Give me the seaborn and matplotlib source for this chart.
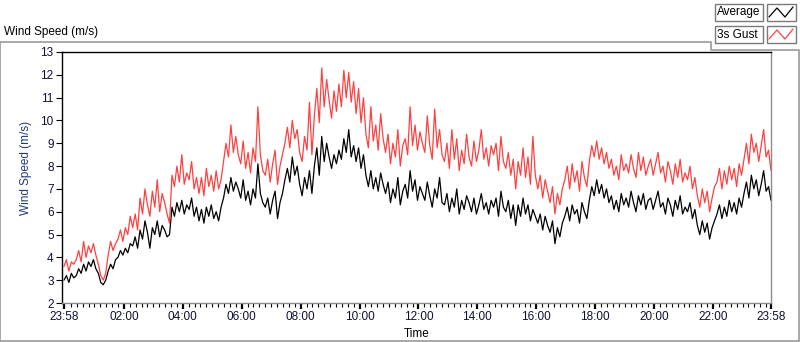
import matplotlib
matplotlib.use('Agg')
import matplotlib.pyplot as plt
from matplotlib.lines import Line2D
from matplotlib.patches import Rectangle
import seaborn as sns
import numpy as np
import pandas as pd

# 5-minute readings starting at 23:58 (minutes from start)
step_min = 5
average = [
    3.0, 3.2, 2.9, 3.3, 3.1,
    3.2, 3.5, 3.3, 3.7, 3.4, 3.8, 3.6, 3.9,
    3.5, 3.3,
    2.9, 2.8, 3.0,
    3.4, 3.7, 3.5, 3.9,
    4.0, 4.3, 4.1, 4.4, 4.2, 4.6,
    4.5, 4.9, 4.4,
    5.2, 4.8, 5.6, 5.1,
    4.4, 5.3, 5.0, 5.6, 4.9, 5.4, 5.2, 4.9,
    5.0,
    6.2, 5.8, 6.4, 6.0, 6.5, 5.9, 6.3, 6.1, 6.6, 5.8, 6.2,
    5.6, 6.1, 5.5, 6.2, 5.8, 6.3, 5.7, 6.0, 5.6, 6.2,
    6.6, 7.2, 6.8, 7.5, 6.9, 7.3, 7.0, 6.6, 7.4,
    6.5, 6.9, 6.3, 7.0, 6.6, 8.1, 6.8, 6.4,
    6.2, 6.6, 5.9, 6.5, 6.9, 5.7, 6.4, 6.8,
    7.4, 7.9, 7.3, 8.4, 7.6, 8.0, 7.2,
    6.7, 7.5, 7.0, 7.8, 6.8,
    8.0, 8.8, 7.6, 9.3, 8.2, 9.0, 8.4,
    7.9, 8.5, 8.1, 8.7,
    8.3, 9.2, 8.6, 9.6, 8.4, 8.9,
    8.2, 8.8, 7.9, 8.5,
    7.6, 7.1, 7.8, 7.0, 7.5, 6.9, 7.7, 7.2,
    6.8, 7.3, 6.4, 7.0, 6.6, 7.5, 6.3, 6.9,
    7.2, 6.6, 7.8, 6.9, 7.4, 6.5, 7.1, 6.8,
    6.5, 7.3, 6.7, 6.2, 7.0, 6.6, 7.5, 6.4,
    6.3, 6.8, 6.0, 6.6, 6.2, 7.0, 5.9, 6.5, 6.1, 6.7,
    6.4, 6.0, 6.6, 5.9, 6.3, 6.8, 6.1, 6.4, 5.9, 6.5, 6.2,
    6.6, 5.8, 6.9, 6.2, 6.0, 6.5, 5.7, 6.3, 5.4,
    6.3, 5.8, 6.6,
    5.9, 6.3, 5.6, 6.1, 5.8,
    5.5, 5.9, 5.2, 5.8, 5.4,
    5.1, 5.6, 4.6, 5.3, 4.9, 5.5,
    5.8, 6.2, 5.6, 6.3, 5.9, 6.1, 5.5, 6.4, 6.0, 5.7,
    6.5, 7.1, 6.7, 7.4, 6.8, 7.2, 6.6, 7.0, 6.4,
    6.7, 6.1, 6.5, 6.0, 6.8, 6.3, 6.6,
    6.2, 6.9, 6.4, 6.0, 6.7, 6.3, 6.8, 6.1, 6.5,
    6.6, 6.1, 6.5, 6.9, 6.2, 6.4, 5.9, 6.6,
    6.3, 5.8, 6.5, 6.1, 6.7, 5.9, 6.2, 6.0, 6.4, 5.7, 6.1,
    5.4, 5.0, 5.6, 5.1, 5.5, 4.8, 5.3, 5.6,
    5.9, 6.3, 5.7, 6.2, 5.8, 6.5, 6.0, 6.4, 5.9, 6.6, 6.2,
    6.8, 7.3, 6.6, 7.6, 7.0, 7.4, 6.7, 7.2, 7.8, 6.9, 7.1, 6.5,
]
gust = [
    3.6, 3.9, 3.4, 3.8, 3.7,
    3.9, 4.3, 3.8, 4.7, 4.0, 4.5, 4.2, 4.6,
    4.1, 3.7,
    3.2, 3.0, 3.3,
    4.1, 4.7, 4.3, 4.6,
    4.8, 5.2, 4.7, 5.3, 5.0, 5.8,
    5.3, 5.9, 5.2,
    6.6, 5.9, 7.0, 6.3,
    5.8, 6.9, 6.2, 7.4, 6.0, 6.8, 6.4, 5.9,
    5.5,
    7.6, 7.1, 8.0, 7.3, 8.5, 7.2, 7.7, 7.4, 8.2, 7.0, 7.5,
    6.8, 7.5, 6.7, 7.9, 7.1, 7.6, 6.9, 7.8, 7.0, 7.4,
    8.2, 9.0, 8.4, 9.8, 8.6, 9.3, 8.5, 8.1, 9.1,
    7.9, 8.6, 7.7, 8.8, 8.2, 10.6, 8.5, 7.8,
    7.6, 8.3, 7.3, 8.1, 8.7, 7.2, 8.0, 8.5,
    9.0, 9.7, 8.8, 10.0, 9.2, 9.6, 8.6,
    8.2, 9.3, 8.7, 10.8, 8.5,
    10.2, 11.4, 9.9, 12.3, 10.6, 11.8, 10.9,
    10.1, 11.3, 10.4, 11.6,
    10.6, 12.2, 11.0, 12.1, 10.8, 11.7,
    10.3, 11.4, 9.9, 11.0,
    9.4, 8.8, 10.6, 9.1, 9.8, 8.7, 10.3, 9.2,
    8.6, 9.4, 8.1, 9.0, 8.4, 9.6, 8.0, 8.9,
    9.2, 8.5, 10.6, 8.9, 9.8, 8.7, 9.5, 9.0,
    8.6, 10.2, 8.9, 8.3, 10.5, 8.8, 9.6, 8.5,
    8.2, 9.0, 7.9, 9.6, 8.3, 9.2, 7.8, 8.7, 8.1, 9.4,
    8.4, 8.0, 9.1, 8.2, 8.7, 9.6, 8.3, 8.8, 8.0, 8.9, 8.5,
    9.0, 7.8, 9.3, 8.2, 7.9, 8.6, 7.6, 8.3, 7.0,
    8.2, 7.6, 8.8,
    7.5, 8.4, 7.2, 9.3, 7.6,
    7.0, 7.6, 6.6, 7.4, 6.9,
    6.4, 7.1, 5.9, 6.8, 6.3, 7.0,
    7.4, 8.0, 7.0, 8.1, 7.3, 7.8, 6.9, 8.2, 7.5, 7.1,
    8.2, 8.9, 8.4, 9.1, 8.3, 8.8, 8.1, 8.6, 7.9,
    8.3, 7.6, 8.0, 7.4, 8.5, 7.8, 8.1,
    7.7, 8.5, 7.9, 7.5, 8.6, 7.8, 8.4, 7.6, 8.0,
    8.3, 7.6, 8.1, 8.6, 7.7, 8.0, 7.3, 8.2,
    7.8, 7.2, 8.1, 7.5, 8.3, 7.3, 7.7, 7.4, 8.0, 7.0, 7.5,
    6.7, 6.2, 7.0, 6.4, 6.9, 6.0, 6.6, 7.1,
    7.3, 7.9, 7.0, 7.8, 7.2, 8.0, 7.4, 7.9, 7.1, 8.1, 7.6,
    8.3, 9.0, 8.1, 9.4, 8.6, 9.0, 8.2, 8.9, 9.6, 8.4, 8.7, 7.8,
]
series_names = ['Average', '3s Gust']
series_colors = ['#000000', '#ff4040']

x_major_ticks = [0, 122, 242, 362, 482, 602, 722, 842, 962, 1082, 1202, 1322, 1440]
x_major_labels = ['23:58', '02:00', '04:00', '06:00', '08:00', '10:00', '12:00',
                  '14:00', '16:00', '18:00', '20:00', '22:00', '23:58']
y_ticks = list(range(2, 14))

df = pd.concat([
    pd.DataFrame({'minute': np.arange(len(average)) * step_min, 'speed': average, 'series': 'Average'}),
    pd.DataFrame({'minute': np.arange(len(gust)) * step_min, 'speed': gust, 'series': '3s Gust'}),
])

sns.set_theme(style='white')
plt.rcParams['font.family'] = ['Liberation Sans', 'DejaVu Sans']
fs = 8.5

W, H = 800, 342
fig = plt.figure(figsize=(W / 100, H / 100), dpi=100)
fig.patch.set_facecolor('white')

def fx(x):
    return x / W

def fy(y):
    return 1 - y / H

# plot area in pixels: left 62, right 771, top 52, bottom 303
ax = fig.add_axes([fx(62), fy(303), fx(771) - fx(62), fy(52) - fy(303)])
for name, col in zip(series_names, series_colors):
    sns.lineplot(data=df[df['series'] == name], x='minute', y='speed', color=col,
                 lw=0.9, ax=ax, legend=False)

ax.set_xlim(-4, 1440)
ax.set_ylim(2, 13)
ax.set_xticks(x_major_ticks)
ax.set_xticklabels(x_major_labels)
ax.set_xticks(list(range(14, 1440, 12)), minor=True)
ax.set_yticks(y_ticks)
ax.set_yticklabels([str(v) for v in y_ticks])
ax.tick_params(axis='both', which='major', labelsize=fs, colors='#000000', labelcolor='#101030')
ax.tick_params(axis='x', which='major', direction='out', length=4, width=1.6, pad=2, bottom=True)
ax.tick_params(axis='x', which='minor', direction='out', length=3, width=0.8, bottom=True, color='#000000')
ax.tick_params(axis='y', which='major', direction='out', length=4, width=0.8, pad=2, left=True)

for side in ['top', 'left']:
    ax.spines[side].set_color('#000000')
    ax.spines[side].set_linewidth(1.0)
for side in ['bottom', 'right']:
    ax.spines[side].set_color('#8c8c8c')
    ax.spines[side].set_linewidth(1.0)

ax.set_xlabel('Time', fontsize=fs, color='#000000')
ax.set_ylabel('Wind Speed (m/s)', fontsize=fs, color='#1f3a78')
ax.yaxis.set_label_coords((32 - 62) / 709, (303 - 168) / 251)
ax.xaxis.set_label_coords((417 - 62) / 709, -(328 - 303) / 251)

# outer panel frame with notch for the legend
frame_x = [0, 0, 711, 711, 799, 799]
frame_y = [341, 42, 42, 50, 50, 341]
fig.add_artist(Line2D([fx(v) for v in frame_x], [fy(v) for v in frame_y],
                      transform=fig.transFigure, color='#9a9a9a', lw=1.2))
fig.add_artist(Line2D([fx(0), fx(799)], [fy(341), fy(341)],
                      transform=fig.transFigure, color='#9a9a9a', lw=1.2))

fig.text(fx(4), fy(32), 'Wind Speed (m/s)', fontsize=fs, color='#000000', va='center', ha='left')

# legend boxes (label + line icon)
for k, (name, col) in enumerate(zip(series_names, series_colors)):
    top = 4 + k * 22
    fig.add_artist(Rectangle((fx(715), fy(top + 17)), fx(763) - fx(715), fy(top) - fy(top + 17),
                             transform=fig.transFigure, fill=False, ec='#7a7a7a', lw=1))
    fig.add_artist(Rectangle((fx(767), fy(top + 17)), fx(796) - fx(767), fy(top) - fy(top + 17),
                             transform=fig.transFigure, fill=False, ec='#7a7a7a', lw=1))
    fig.text(fx(717), fy(top + 8.5), name, fontsize=fs, color='#000000', va='center', ha='left')
    icon_x = [769, 777, 785, 793]
    icon_y = [top + 13, top + 4, top + 13, top + 3]
    fig.add_artist(Line2D([fx(v) for v in icon_x], [fy(v) for v in icon_y],
                          transform=fig.transFigure, color=col, lw=0.9))

fig.savefig('out.png', dpi=100, facecolor='white')
